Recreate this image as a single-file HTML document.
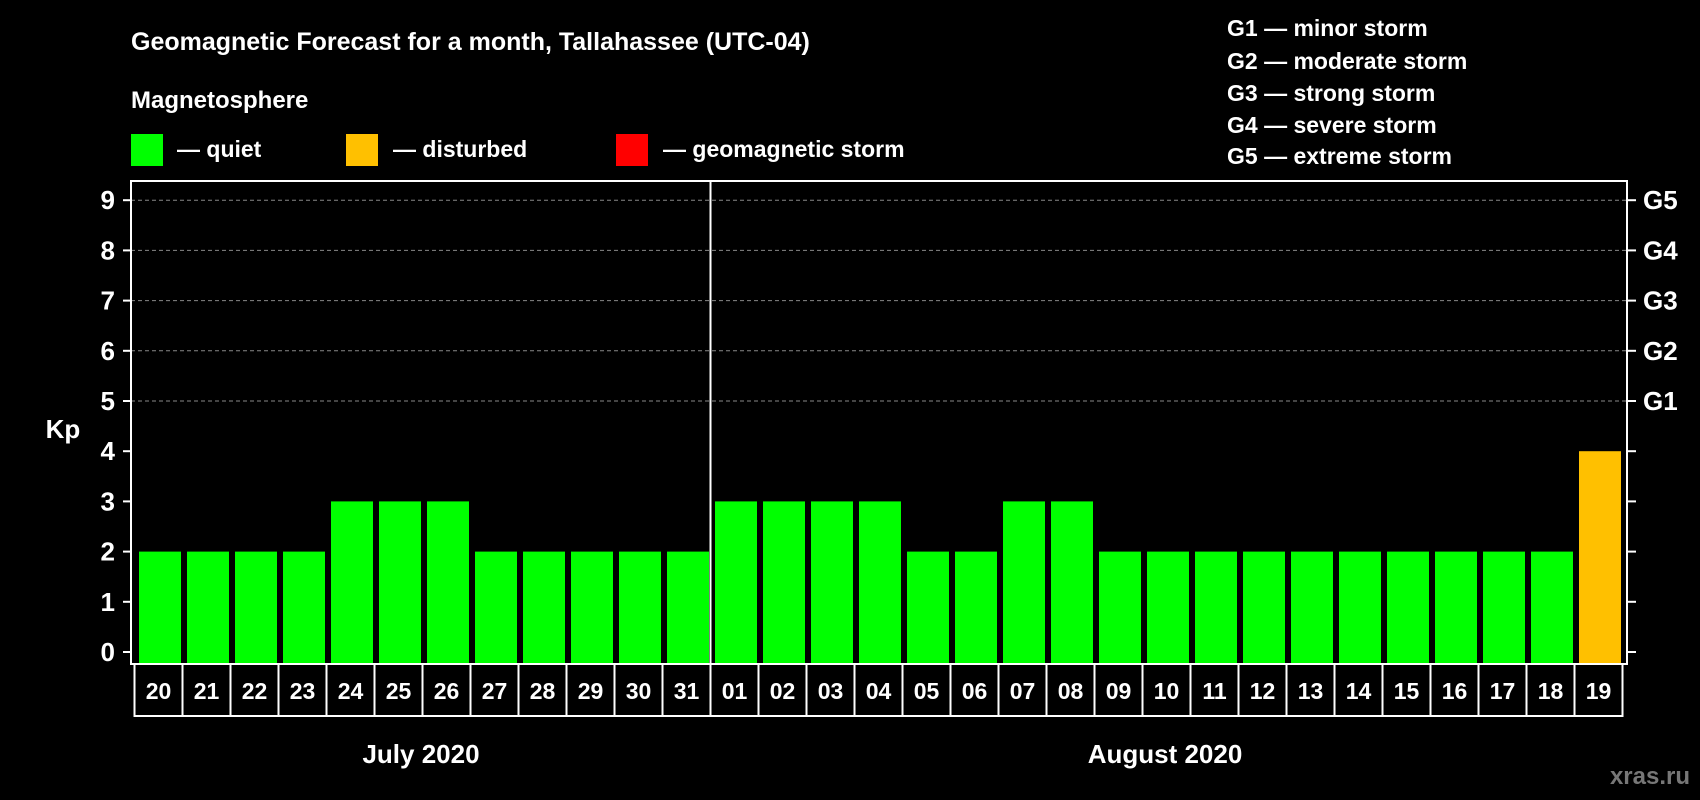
<!DOCTYPE html>
<html><head><meta charset="utf-8"><style>
html,body{margin:0;padding:0;background:#000;}
svg{display:block;font-family:"Liberation Sans",Arial,sans-serif;font-weight:bold;}
</style></head><body>
<svg id="chart" width="1700" height="800" viewBox="0 0 1700 800">
<rect x="0" y="0" width="1700" height="800" fill="#000"/>
<text x="131" y="50" font-size="25" fill="#fff">Geomagnetic Forecast for a month, Tallahassee (UTC-04)</text>
<text x="131" y="108" font-size="24" fill="#fff">Magnetosphere</text>
<g><rect x="131" y="134" width="32" height="32" fill="#00ff00"/><text x="177" y="157" font-size="23" fill="#fff">— quiet</text></g>
<g><rect x="346" y="134" width="32" height="32" fill="#ffc000"/><text x="393" y="157" font-size="23" fill="#fff">— disturbed</text></g>
<g><rect x="616" y="134" width="32" height="32" fill="#ff0000"/><text x="663" y="157" font-size="23" fill="#fff">— geomagnetic storm</text></g>
<g font-size="23" fill="#fff">
<text x="1227" y="36">G1 — minor storm</text>
<text x="1227" y="69">G2 — moderate storm</text>
<text x="1227" y="101">G3 — strong storm</text>
<text x="1227" y="133">G4 — severe storm</text>
<text x="1227" y="164">G5 — extreme storm</text>
</g>
<text x="63" y="438" font-size="26" fill="#fff" text-anchor="middle">Kp</text>
<g id="grid"></g><g id="bars"></g><g id="axes"></g><g id="xlabels"></g>
<text x="421" y="763" font-size="26" fill="#fff" text-anchor="middle">July 2020</text>
<text x="1165" y="763" font-size="26" fill="#fff" text-anchor="middle">August 2020</text>
<text x="1690" y="784" font-size="24" fill="#777" text-anchor="end">xras.ru</text>
</svg>
<script>
const days = ["20","21","22","23","24","25","26","27","28","29","30","31","01","02","03","04","05","06","07","08","09","10","11","12","13","14","15","16","17","18","19"];
const kpValues = [2,2,2,2,3,3,3,2,2,2,2,2,3,3,3,3,2,2,3,3,2,2,2,2,2,2,2,2,2,2,4];
const yTicks = [0,1,2,3,4,5,6,7,8,9];
const gLabels = ["G1","G2","G3","G4","G5"];
const monthSplit = 12;

const NS="http://www.w3.org/2000/svg";
const L=131,R=1627,T=181,B=664;
const band=48, x0=134.5, bw=42;
function y(v){return 652-v*50.2;}
function x(i){return x0+i*band;}
function mk(tag,attrs,parent){const e=document.createElementNS(NS,tag);for(const k in attrs)e.setAttribute(k,attrs[k]);parent.appendChild(e);return e;}
const grid=document.getElementById('grid'),bars=document.getElementById('bars'),axes=document.getElementById('axes'),xl=document.getElementById('xlabels');
yTicks.forEach(v=>{
  if(v>=5){const g=mk('line',{x1:L,x2:R,y1:y(v),y2:y(v),stroke:'#888','stroke-width':1,'stroke-dasharray':'4,3'},grid);
  
  }
  const t1=mk('line',{x1:L-8,x2:L,y1:y(v),y2:y(v),stroke:'#fff','stroke-width':2},axes);
  
  
  const t2=mk('line',{x1:R,x2:R+9,y1:y(v),y2:y(v),stroke:'#fff','stroke-width':2},axes);
  
  
  const lb=mk('text',{x:L-16,y:y(v)+9,'font-size':26,fill:'#fff','text-anchor':'end'},axes);
  lb.textContent=v;
  
  
});
gLabels.forEach((g,i)=>{
  const t=mk('text',{x:R+16,y:y(5+i)+9,'font-size':26,fill:'#fff'},axes);
  t.textContent=g;
  
  
});
kpValues.forEach((v,i)=>{
  const c=v>=5?'#ff0000':(v>=4?'#ffc000':'#00ff00');
  const b=mk('rect',{x:x(i)+4.5,y:y(v),width:bw,height:B-y(v),fill:c},bars);
  
  
  const bx=mk('rect',{x:x(i),y:B,width:band,height:52,fill:'none',stroke:'#fff','stroke-width':2},xl);
  
  
  const t=mk('text',{x:x(i)+band/2,y:B+35,'font-size':23,fill:'#fff','text-anchor':'middle'},xl);
  t.textContent=days[i];
  
  
});
const fr=mk('rect',{x:L,y:T,width:R-L,height:B-T,fill:'none',stroke:'#fff','stroke-width':2},axes);


const dv=mk('line',{x1:x(monthSplit),x2:x(monthSplit),y1:T,y2:B,stroke:'#fff','stroke-width':2},axes);


</script>
</body></html>
